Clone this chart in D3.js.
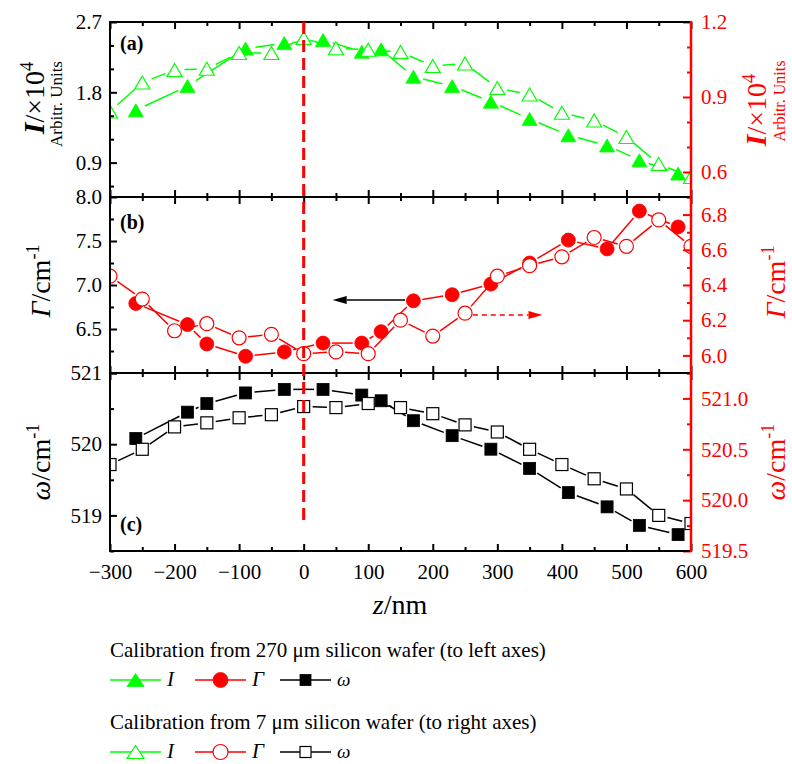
<!DOCTYPE html>
<html lang="en">
<head>
<meta charset="UTF-8">
<title>Raman parameters along z</title>
<script src="https://d3js.org/d3.v7.min.js"></script>
<style>
  body { margin: 0; background: #fff; }
  svg { display: block; }
</style>
</head>
<body>
<div id="chart"></div>
<script>
  // z positions (nm)
  const zThick = [-260, -180, -150, -90, -30, 30, 90, 120, 170, 230, 290, 350, 410, 470, 520, 580];
  const zThickI = [-260, -180, -90, -30, 30, 90, 120, 170, 230, 290, 350, 410, 470, 520, 580];
  const zThin = [-300, -250, -200, -150, -100, -50, 0, 50, 100, 150, 200, 250, 300, 350, 400, 450, 500, 550, 600];

  // calibration from 270 um wafer (left axes)
  const intensityThick = [1.57, 1.88, 2.36, 2.43, 2.47, 2.32, 2.35, 2.00, 1.88, 1.68, 1.46, 1.25, 1.12, 0.93, 0.76];
  const gammaThick = [6.79, 6.55, 6.33, 6.19, 6.24, 6.34, 6.34, 6.47, 6.82, 6.89, 7.01, 7.25, 7.51, 7.41, 7.84, 7.66];
  const omegaThick = [520.08, 520.45, 520.57, 520.72, 520.77, 520.77, 520.69, 520.61, 520.33, 520.12, 519.93, 519.66, 519.32, 519.12, 518.86, 518.73];

  // calibration from 7 um wafer (right axes)
  const intensityThin = [0.842, 0.958, 1.008, 1.013, 1.076, 1.076, 1.136, 1.095, 1.089, 1.08, 1.024, 1.034, 0.936, 0.91, 0.837, 0.806, 0.74, 0.632, 0.58];
  const gammaThin = [6.45, 6.32, 6.14, 6.18, 6.10, 6.12, 6.01, 6.02, 6.01, 6.20, 6.11, 6.24, 6.45, 6.51, 6.56, 6.67, 6.62, 6.77, 6.62];
  const omegaThin = [520.35, 520.50, 520.72, 520.76, 520.81, 520.84, 520.92, 520.91, 520.95, 520.91, 520.85, 520.74, 520.67, 520.50, 520.35, 520.21, 520.11, 519.85, 519.77];

  // ticks
  const xMajor = [-300, -200, -100, 0, 100, 200, 300, 400, 500, 600];
  const xMinor = [-250, -150, -50, 50, 150, 250, 350, 450, 550];
  const iLeftMajor = [0.9, 1.8, 2.7], iLeftMinor = [0.6, 1.2, 1.5, 2.1, 2.4];
  const iRightMajor = [0.6, 0.9, 1.2], iRightMinor = [0.5, 0.7, 0.8, 1.0, 1.1];
  const gLeftMajor = [6.0, 6.5, 7.0, 7.5, 8.0], gLeftMinor = [6.25, 6.75, 7.25, 7.75];
  const gRightMajor = [6.0, 6.2, 6.4, 6.6, 6.8], gRightMinor = [5.9, 6.1, 6.3, 6.5, 6.7, 6.9];
  const wLeftMajor = [519, 520, 521], wLeftMinor = [518.5, 519.5, 520.5];
  const wRightMajor = [519.5, 520.0, 520.5, 521.0], wRightMinor = [519.75, 520.25, 520.75, 521.25];

  // arrows in panel (b): [from z, to z, value]
  const arrowToLeft = [157, 45, 6.83];
  const arrowToRight = [262, 370, 6.23];

  const GREEN = "#00ff00", RED = "#ff0000", BLACK = "#000";
  const FONT = "'Liberation Serif', 'Times New Roman', Times, serif";
  const width = 792, height = 764;
  const xLeft = 110, xRight = 691;

  const svg = d3.select("#chart").append("svg")
    .attr("width", width).attr("height", height)
    .attr("font-family", FONT);

  const x = d3.scaleLinear().domain([-300, 600]).range([xLeft, xRight]);

  const panels = [
    {
      y0: 22, y1: 197, label: "(a)", labelY: 50,
      left: { domain: [0.46, 2.7], major: iLeftMajor, minor: iLeftMinor, fmt: d => d3.format(".1f")(d) },
      right: { domain: [0.5, 1.2], major: iRightMajor, minor: iRightMinor, fmt: d => d3.format(".1f")(d) },
      series: [
        { z: zThickI, v: intensityThick, side: "L", shape: "tri", color: GREEN, open: false },
        { z: zThin, v: intensityThin, side: "R", shape: "tri", color: GREEN, open: true }
      ]
    },
    {
      y0: 197, y1: 373, label: "(b)", labelY: 229,
      left: { domain: [6, 8], major: gLeftMajor, minor: gLeftMinor, fmt: d => d === 6 ? "" : d3.format(".1f")(d) },
      right: { domain: [5.9, 6.9], major: gRightMajor, minor: gRightMinor, fmt: d => d3.format(".1f")(d) },
      series: [
        { z: zThick, v: gammaThick, side: "L", shape: "circle", color: RED, open: false },
        { z: zThin, v: gammaThin, side: "R", shape: "circle", color: RED, open: true }
      ]
    },
    {
      y0: 373, y1: 551, label: "(c)", labelY: 531,
      left: { domain: [518.5, 521], major: wLeftMajor, minor: wLeftMinor, fmt: d => d3.format("d")(d) },
      right: { domain: [519.5, 521.25], major: wRightMajor, minor: wRightMinor, fmt: d => d3.format(".1f")(d) },
      series: [
        { z: zThick, v: omegaThick, side: "L", shape: "square", color: BLACK, open: false },
        { z: zThin, v: omegaThin, side: "R", shape: "square", color: BLACK, open: true }
      ]
    }
  ];

  function drawMarker(g, shape, cx, cy, color, open, s) {
    const fill = open ? "#fff" : color;
    let el;
    if (shape === "tri") {
      const w = s.tw, h = s.th;
      el = g.append("path")
        .attr("d", `M${cx},${cy - h / 2}L${cx + w / 2},${cy + h / 2}L${cx - w / 2},${cy + h / 2}Z`);
    } else if (shape === "circle") {
      el = g.append("circle").attr("cx", cx).attr("cy", cy).attr("r", s.r);
    } else {
      el = g.append("rect").attr("x", cx - s.sq / 2).attr("y", cy - s.sq / 2)
        .attr("width", s.sq).attr("height", s.sq);
    }
    el.attr("fill", fill).attr("stroke", color).attr("stroke-width", open ? 1.2 : 0.8);
  }

  const plotSize = { tw: 15, th: 13, r: 7, sq: 12 };
  const gaps = { tri: 10, circle: 9, square: 9 };

  panels.forEach((p, i) => {
    const yL = d3.scaleLinear().domain(p.left.domain).range([p.y1, p.y0]);
    const yR = d3.scaleLinear().domain(p.right.domain).range([p.y1, p.y0]);
    p.yL = yL; p.yR = yR;

    svg.append("clipPath").attr("id", "clip" + i)
      .append("rect").attr("x", xLeft).attr("y", p.y0)
      .attr("width", xRight - xLeft).attr("height", p.y1 - p.y0);

    const plot = svg.append("g").attr("clip-path", `url(#clip${i})`);

    p.series.forEach(s => {
      const y = s.side === "L" ? yL : yR;
      const pts = s.z.map((z, k) => [x(z), y(s.v[k])]);
      const gap = gaps[s.shape];
      const lines = plot.append("g").attr("stroke", s.color).attr("stroke-width", 1.5);
      for (let k = 0; k < pts.length - 1; k++) {
        const [ax, ay] = pts[k], [bx, by] = pts[k + 1];
        const len = Math.hypot(bx - ax, by - ay);
        if (len <= 2 * gap) continue;
        const ux = (bx - ax) / len, uy = (by - ay) / len;
        lines.append("line")
          .attr("x1", ax + ux * gap).attr("y1", ay + uy * gap)
          .attr("x2", bx - ux * gap).attr("y2", by - uy * gap);
      }
      const marks = plot.append("g");
      pts.forEach(([px, py]) => drawMarker(marks, s.shape, px, py, s.color, s.open, plotSize));
    });

    // x ticks on top and bottom, pointing inwards
    [[xMajor, 7], [xMinor, 4]].forEach(([vals, len]) => {
      svg.append("g").attr("transform", `translate(0,${p.y0})`)
        .call(d3.axisTop(x).tickValues(vals).tickSize(-len).tickFormat(""))
        .call(g => g.select(".domain").remove())
        .call(g => g.selectAll("line").attr("stroke-width", 2));
      svg.append("g").attr("transform", `translate(0,${p.y1})`)
        .call(d3.axisBottom(x).tickValues(vals).tickSize(-len).tickPadding(13)
          .tickFormat(i === 2 && len === 7 ? d3.format("d") : ""))
        .call(g => g.select(".domain").remove())
        .call(g => g.selectAll("line").attr("stroke-width", 2))
        .attr("font-family", FONT).attr("font-size", 21);
    });

    // left axis
    [[p.left.major, 7, p.left.fmt], [p.left.minor, 4, ""]].forEach(([vals, len, fmt]) => {
      svg.append("g").attr("transform", `translate(${xLeft},0)`)
        .call(d3.axisLeft(yL).tickValues(vals).tickSize(-len).tickPadding(8).tickFormat(fmt))
        .call(g => g.select(".domain").remove())
        .call(g => g.selectAll("line").attr("stroke-width", 2))
        .attr("font-family", FONT).attr("font-size", 21);
    });

    // right axis (red)
    [[p.right.major, 8, p.right.fmt], [p.right.minor, 4, ""]].forEach(([vals, len, fmt]) => {
      svg.append("g").attr("transform", `translate(${xRight},0)`)
        .style("color", RED)
        .call(d3.axisRight(yR).tickValues(vals).tickSize(-len).tickPadding(10).tickFormat(fmt))
        .call(g => g.select(".domain").remove())
        .call(g => g.selectAll("line").attr("stroke-width", 2))
        .attr("font-family", FONT).attr("font-size", 21);
    });

    // horizontal frame lines
    svg.append("line").attr("x1", xLeft).attr("x2", xRight)
      .attr("y1", p.y0).attr("y2", p.y0).attr("stroke", BLACK).attr("stroke-width", 2);
    svg.append("line").attr("x1", xLeft).attr("x2", xRight)
      .attr("y1", p.y1).attr("y2", p.y1).attr("stroke", BLACK).attr("stroke-width", 2);

    svg.append("text").attr("x", 120).attr("y", p.labelY)
      .attr("font-size", 20).attr("font-weight", "bold").text(p.label);
  });

  // vertical frame lines
  svg.append("line").attr("x1", xLeft).attr("x2", xLeft).attr("y1", 21).attr("y2", 552)
    .attr("stroke", BLACK).attr("stroke-width", 2);
  svg.append("line").attr("x1", xRight).attr("x2", xRight).attr("y1", 21).attr("y2", 552)
    .attr("stroke", RED).attr("stroke-width", 2.5);

  // dashed marker at z = 0
  svg.append("line").attr("x1", x(0)).attr("x2", x(0)).attr("y1", 22).attr("y2", 525)
    .attr("stroke", RED).attr("stroke-width", 3).attr("stroke-dasharray", "12,6");

  // arrows in (b)
  function arrow(ax, bx, yy, color, dash) {
    const dir = Math.sign(bx - ax), head = 14;
    svg.append("line").attr("x1", ax).attr("x2", bx - dir * head).attr("y1", yy).attr("y2", yy)
      .attr("stroke", color).attr("stroke-width", 1.5)
      .attr("stroke-dasharray", dash ? "5,4" : null);
    svg.append("path")
      .attr("d", `M${bx},${yy}L${bx - dir * head},${yy - 4}L${bx - dir * head},${yy + 4}Z`)
      .attr("fill", color);
  }
  const pb = panels[1];
  arrow(x(arrowToLeft[0]), x(arrowToLeft[1]), pb.yL(arrowToLeft[2]), BLACK, false);
  arrow(x(arrowToRight[0]), x(arrowToRight[1]), pb.yR(arrowToRight[2]), RED, true);

  // rotated axis titles
  function vTitle(cy, baseline, parts, color, size) {
    const t = svg.append("text")
      .attr("transform", `translate(${baseline},${cy}) rotate(-90)`)
      .attr("text-anchor", "middle").attr("fill", color).attr("font-size", size);
    parts.forEach(pt => {
      const ts = t.append("tspan").text(pt.t);
      if (pt.i) ts.attr("font-style", "italic");
      if (pt.b) ts.attr("font-weight", "bold");
      if (pt.sup) ts.attr("dy", "-0.6em").attr("font-size", size * 0.65);
      if (pt.size) ts.attr("font-size", pt.size);
    });
  }
  const iTitle = [{ t: "I", i: true, b: true, size: 30 }, { t: "/×10" }, { t: "4", sup: true }];
  const gTitle = [{ t: "Γ", i: true }, { t: "/cm" }, { t: "-1", sup: true }];
  const wTitle = [{ t: "ω", i: true }, { t: "/cm" }, { t: "-1", sup: true }];

  vTitle(98, 44, iTitle, BLACK, 28);
  vTitle(104, 62, [{ t: "Arbitr. Units" }], BLACK, 17);
  vTitle(281, 50, gTitle, BLACK, 28);
  vTitle(462, 50, wTitle, BLACK, 28);

  vTitle(110, 766, iTitle, RED, 28);
  vTitle(101, 785, [{ t: "Arbitr. Units" }], RED, 16);
  vTitle(282, 785, gTitle, RED, 28);
  vTitle(462, 785, wTitle, RED, 28);

  const xt = svg.append("text").attr("x", 400).attr("y", 614)
    .attr("text-anchor", "middle").attr("font-size", 28);
  xt.append("tspan").attr("font-style", "italic").text("z");
  xt.append("tspan").text("/nm");

  // legend
  const legendRows = [
    { title: "Calibration from 270 μm silicon wafer (to left axes)", open: false, y: 657 },
    { title: "Calibration from 7 μm silicon wafer (to right axes)", open: true, y: 729 }
  ];
  const legendKeys = [
    { name: "I", shape: "tri", color: GREEN, x: 110 },
    { name: "Γ", shape: "circle", color: RED, x: 195 },
    { name: "ω", shape: "square", color: BLACK, x: 280 }
  ];
  const legendSize = { tw: 17, th: 13, r: 7.5, sq: 11 };

  legendRows.forEach(row => {
    svg.append("text").attr("x", 110).attr("y", row.y).attr("font-size", 21).text(row.title);
    const ky = row.y + 23;
    legendKeys.forEach(k => {
      svg.append("line").attr("x1", k.x).attr("x2", k.x + 51).attr("y1", ky).attr("y2", ky)
        .attr("stroke", k.color).attr("stroke-width", 1.5);
      drawMarker(svg, k.shape, k.x + 25.5, ky, k.color, row.open, legendSize);
      svg.append("text").attr("x", k.x + 57).attr("y", ky + 6)
        .attr("font-size", k.name === "ω" ? 19 : 21).attr("font-style", "italic")
        .text(k.name);
    });
  });
</script>
</body>
</html>
